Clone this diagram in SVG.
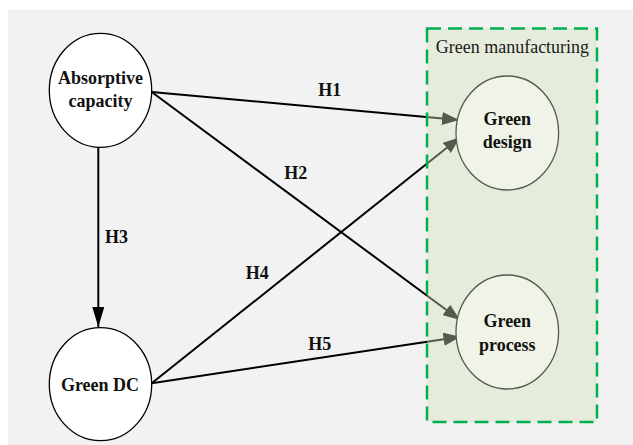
<svg xmlns="http://www.w3.org/2000/svg" width="633" height="445" viewBox="0 0 633 445">
<style>
.node{fill:#ffffff;stroke:#000000;stroke-width:1.3}
.gnode{fill:#f0f3e8;stroke:#555b4b;stroke-width:1.3}
.nt{font-family:"Liberation Serif","Times New Roman",serif;font-weight:bold;font-size:18px;fill:#111111;text-anchor:middle}
.el{font-family:"Liberation Serif","Times New Roman",serif;font-weight:bold;font-size:18px;fill:#111111}
.edge{stroke:#000000;stroke-width:2;fill:none}
.gm{font-family:"Liberation Serif","Times New Roman",serif;font-size:18px;fill:#1a1a1a}
</style>
<defs>
<marker id="ah" markerUnits="userSpaceOnUse" markerWidth="18" markerHeight="13" refX="17" refY="6.5" orient="auto">
<path d="M0,0 L17,6.5 L0,13 z" fill="#000000"/>
</marker>
<marker id="ahv" markerUnits="userSpaceOnUse" markerWidth="21" markerHeight="12" refX="20" refY="6" orient="auto">
<path d="M0,0 L20,6 L0,12 z" fill="#000000"/>
</marker>
</defs>
<rect x="8" y="10" width="625" height="435" fill="#f2f2f2"/>
<g id="connectors">
<line class="edge" x1="151.7" y1="92" x2="459" y2="120" marker-end="url(#ah)"/>
<line class="edge" x1="151.7" y1="92" x2="460" y2="320" marker-end="url(#ah)"/>
<line class="edge" x1="98.3" y1="147" x2="98.3" y2="327" marker-end="url(#ahv)"/>
<line class="edge" x1="151.7" y1="383.3" x2="460" y2="137.3" marker-end="url(#ah)"/>
<line class="edge" x1="151.7" y1="383.3" x2="460.5" y2="336.7" marker-end="url(#ah)"/>
<text class="el" x="318.3" y="95.7">H1</text>
<text class="el" x="284.3" y="179">H2</text>
<text class="el" x="105" y="242.7">H3</text>
<text class="el" x="245.7" y="279">H4</text>
<text class="el" x="308.3" y="350">H5</text>
</g>
<g id="absorptive-capacity">
<ellipse class="node" cx="100.5" cy="90.3" rx="51.2" ry="57"/>
<text class="nt" x="100.5" y="84">Absorptive</text>
<text class="nt" x="100.5" y="107.3">capacity</text>
</g>
<g id="green-dc">
<ellipse class="node" cx="100.5" cy="384.2" rx="51.2" ry="56.5"/>
<text class="nt" x="100" y="390.7">Green DC</text>
</g>
<g id="green-manufacturing">
<rect x="427" y="28.5" width="170" height="393.5" fill="rgb(212,227,187)" fill-opacity="0.4" stroke="#00b050" stroke-width="2.5" stroke-dasharray="14 7"/>
<text class="gm" x="435.7" y="53.3">Green manufacturing</text>
</g>
<g id="green-design">
<ellipse class="gnode" cx="507.3" cy="133" rx="51.3" ry="57"/>
<text class="nt" x="507.3" y="125">Green</text>
<text class="nt" x="507.3" y="148">design</text>
</g>
<g id="green-process">
<ellipse class="gnode" cx="507.3" cy="332" rx="51.3" ry="57"/>
<text class="nt" x="507.3" y="326.7">Green</text>
<text class="nt" x="507.3" y="350.7">process</text>
</g>
</svg>
